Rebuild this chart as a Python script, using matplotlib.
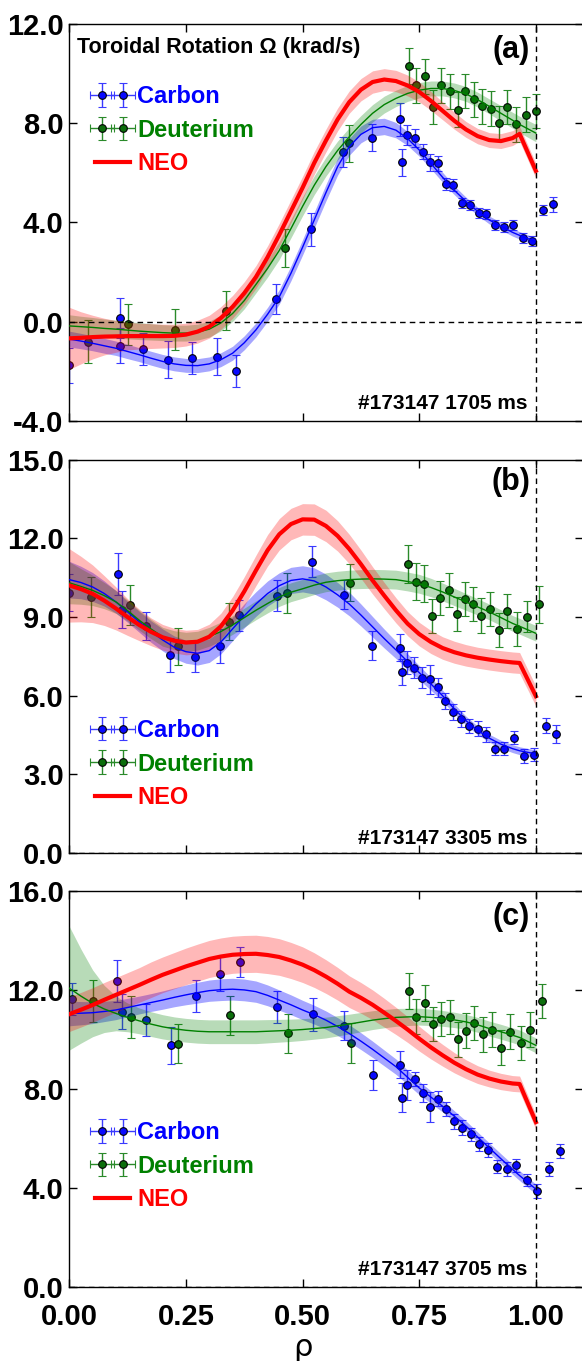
"""
Toroidal rotation profiles: carbon / deuterium measurements vs NEO
"""

import numpy as np
import matplotlib
matplotlib.use("Agg")
import matplotlib.pyplot as plt
from matplotlib.legend_handler import HandlerLine2D


# ─────────────────────────────────────────────
#  Data
# ─────────────────────────────────────────────

rho_fit = [0.000, 0.025, 0.050, 0.075, 0.100, 0.125, 0.150, 0.175, 0.200, 0.225,
           0.250, 0.275, 0.300, 0.325, 0.350, 0.375, 0.400, 0.425, 0.450, 0.475,
           0.500, 0.525, 0.550, 0.575, 0.600, 0.625, 0.650, 0.675, 0.700, 0.725,
           0.750, 0.775, 0.800, 0.825, 0.850, 0.875, 0.900, 0.925, 0.950, 0.965,
           1.000]

# ── panel (a) 1705 ms ──
a_c_rho = [0.000, 0.108, 0.108, 0.159, 0.211, 0.264, 0.317, 0.358, 0.442, 0.519,
           0.587, 0.649, 0.708, 0.712, 0.724, 0.741, 0.757, 0.774, 0.791, 0.808,
           0.823, 0.841, 0.859, 0.877, 0.894, 0.913, 0.931, 0.951, 0.972, 0.992,
           1.016, 1.037]
a_c_val = [-1.76, 0.16, -0.97, -1.09, -1.53, -1.45, -1.41, -2.00, 0.92, 3.72,
           6.85, 7.41, 8.15, 6.42, 7.54, 7.41, 6.85, 6.42, 6.39, 5.55,
           5.50, 4.80, 4.71, 4.37, 4.33, 3.89, 3.80, 3.89, 3.37, 3.24,
           4.50, 4.73]
a_c_err = [0.70, 0.80, 0.70, 0.65, 0.75, 0.65, 0.75, 0.65, 0.60, 0.67,
           0.60, 0.55, 0.68, 0.55, 0.40, 0.35, 0.30, 0.35, 0.30, 0.25,
           0.25, 0.20, 0.20, 0.20, 0.20, 0.20, 0.20, 0.20, 0.20, 0.20,
           0.20, 0.30]
a_d_rho = [0.040, 0.126, 0.226, 0.336, 0.462, 0.600, 0.728, 0.744, 0.762, 0.780,
           0.797, 0.815, 0.832, 0.849, 0.867, 0.885, 0.903, 0.921, 0.939, 0.958,
           0.979, 1.001]
a_d_val = [-0.80, -0.11, -0.32, 0.45, 2.97, 7.19, 10.31, 9.53, 9.89, 8.65,
           9.53, 9.28, 8.55, 9.30, 8.96, 8.68, 8.58, 8.00, 8.65, 7.95,
           8.35, 8.49]
a_d_err = [0.88, 0.84, 0.82, 0.80, 0.75, 0.74, 0.72, 0.70, 0.70, 0.70,
           0.70, 0.70, 0.70, 0.70, 0.70, 0.70, 0.70, 0.70, 0.70, 0.70,
           0.70, 0.70]
a_c_fit = [-0.70, -0.78, -0.87, -0.97, -1.07, -1.20, -1.33, -1.47, -1.60, -1.70,
           -1.76, -1.77, -1.70, -1.53, -1.27, -0.85, -0.33, 0.30, 1.00, 1.95,
           3.00, 4.10, 5.20, 6.25, 7.05, 7.55, 7.82, 7.87, 7.72, 7.38,
           6.92, 6.38, 5.82, 5.30, 4.85, 4.45, 4.10, 3.85, 3.60, 3.48,
           3.22]
a_c_band = [0.32, 0.31, 0.30, 0.30, 0.29, 0.29, 0.28, 0.28, 0.28, 0.28,
            0.28, 0.28, 0.28, 0.28, 0.28, 0.28, 0.28, 0.28, 0.29, 0.30,
            0.31, 0.32, 0.33, 0.34, 0.34, 0.34, 0.34, 0.33, 0.31, 0.28,
            0.25, 0.22, 0.20, 0.18, 0.17, 0.16, 0.16, 0.15, 0.15, 0.15,
            0.15]
a_d_fit = [-0.17, -0.20, -0.23, -0.27, -0.30, -0.34, -0.38, -0.41, -0.44, -0.46,
           -0.46, -0.42, -0.30, -0.05, 0.33, 0.85, 1.50, 2.15, 2.87, 3.75,
           4.65, 5.50, 6.25, 6.90, 7.45, 7.95, 8.40, 8.75, 9.00, 9.20,
           9.33, 9.40, 9.40, 9.32, 9.18, 8.95, 8.68, 8.40, 8.12, 7.95,
           7.60]
a_d_band = [0.45, 0.42, 0.40, 0.38, 0.36, 0.35, 0.34, 0.33, 0.32, 0.32,
            0.32, 0.32, 0.32, 0.32, 0.32, 0.33, 0.34, 0.35, 0.36, 0.37,
            0.38, 0.38, 0.38, 0.38, 0.37, 0.36, 0.35, 0.34, 0.33, 0.32,
            0.31, 0.30, 0.30, 0.30, 0.30, 0.30, 0.30, 0.31, 0.32, 0.33,
            0.35]
a_neo = [-0.67, -0.65, -0.62, -0.60, -0.59, -0.58, -0.58, -0.58, -0.58, -0.57,
         -0.52, -0.40, -0.20, 0.15, 0.60, 1.15, 1.80, 2.60, 3.50, 4.45,
         5.40, 6.40, 7.30, 8.15, 8.85, 9.35, 9.66, 9.76, 9.70, 9.52,
         9.26, 8.90, 8.50, 8.10, 7.75, 7.48, 7.32, 7.28, 7.40, 7.57,
         6.08]
a_neo_band = [1.25, 1.05, 0.88, 0.74, 0.64, 0.56, 0.52, 0.50, 0.48, 0.47,
              0.46, 0.46, 0.46, 0.46, 0.46, 0.46, 0.46, 0.46, 0.46, 0.46,
              0.46, 0.46, 0.46, 0.46, 0.45, 0.45, 0.45, 0.44, 0.43, 0.42,
              0.40, 0.38, 0.36, 0.34, 0.32, 0.31, 0.30, 0.30, 0.30, 0.30,
              0.30]

# ── panel (b) 3305 ms ──
b_c_rho = [0.000, 0.105, 0.113, 0.164, 0.216, 0.269, 0.322, 0.363, 0.446, 0.521,
           0.589, 0.649, 0.708, 0.712, 0.724, 0.739, 0.755, 0.772, 0.790, 0.805,
           0.823, 0.840, 0.857, 0.875, 0.893, 0.912, 0.931, 0.952, 0.974, 0.996,
           1.021, 1.044]
b_c_val = [9.93, 10.64, 9.29, 8.66, 7.54, 7.49, 7.88, 9.07, 9.82, 11.12,
           9.85, 7.91, 7.84, 6.92, 7.26, 7.07, 6.69, 6.63, 6.32, 5.79,
           5.39, 5.12, 4.84, 4.74, 4.52, 3.98, 3.98, 4.40, 3.70, 3.75,
           4.86, 4.55]
b_c_err = [0.70, 0.80, 0.70, 0.55, 0.65, 0.60, 0.65, 0.60, 0.60, 0.60,
           0.55, 0.55, 0.50, 0.50, 0.45, 0.40, 0.40, 0.55, 0.35, 0.30,
           0.30, 0.30, 0.28, 0.28, 0.28, 0.25, 0.25, 0.25, 0.25, 0.25,
           0.28, 0.35]
b_d_rho = [0.047, 0.130, 0.232, 0.342, 0.466, 0.601, 0.726, 0.743, 0.760, 0.778,
           0.795, 0.813, 0.831, 0.847, 0.865, 0.883, 0.901, 0.921, 0.939, 0.960,
           0.980, 1.006]
b_d_val = [9.77, 9.46, 7.88, 8.82, 9.92, 10.32, 11.03, 10.35, 10.27, 9.05,
           9.72, 10.02, 9.12, 9.69, 9.51, 9.06, 9.30, 8.50, 9.23, 8.53,
           9.02, 9.49]
b_d_err = [0.75, 0.75, 0.70, 0.70, 0.75, 0.72, 0.72, 0.70, 0.70, 0.65,
           0.65, 0.65, 0.65, 0.65, 0.65, 0.65, 0.65, 0.65, 0.65, 0.65,
           0.60, 0.70]
b_c_fit = [10.43, 10.32, 10.15, 9.90, 9.58, 9.20, 8.82, 8.45, 8.13, 7.85,
           7.68, 7.62, 7.72, 8.05, 8.55, 9.05, 9.50, 9.90, 10.20, 10.40,
           10.46, 10.38, 10.15, 9.85, 9.50, 9.08, 8.63, 8.18, 7.75, 7.30,
           6.88, 6.45, 6.00, 5.50, 5.05, 4.68, 4.38, 4.15, 3.98, 3.90,
           3.78]
b_c_band = [0.70, 0.62, 0.55, 0.48, 0.43, 0.40, 0.40, 0.41, 0.42, 0.43,
            0.44, 0.45, 0.45, 0.45, 0.45, 0.46, 0.47, 0.48, 0.49, 0.50,
            0.50, 0.50, 0.49, 0.47, 0.45, 0.42, 0.39, 0.36, 0.33, 0.30,
            0.27, 0.24, 0.21, 0.19, 0.17, 0.16, 0.15, 0.15, 0.15, 0.15,
            0.15]
b_d_fit = [10.31, 10.17, 10.02, 9.82, 9.58, 9.25, 8.88, 8.55, 8.25, 8.12,
           8.06, 8.10, 8.25, 8.45, 8.70, 8.98, 9.26, 9.52, 9.77, 9.95,
           10.08, 10.22, 10.33, 10.39, 10.43, 10.45, 10.46, 10.45, 10.43, 10.36,
           10.27, 10.13, 9.96, 9.77, 9.58, 9.39, 9.20, 8.98, 8.76, 8.65,
           8.38]
b_d_band = [0.80, 0.68, 0.58, 0.50, 0.44, 0.40, 0.38, 0.37, 0.36, 0.36,
            0.36, 0.36, 0.36, 0.36, 0.36, 0.36, 0.36, 0.36, 0.36, 0.36,
            0.36, 0.36, 0.36, 0.36, 0.36, 0.36, 0.36, 0.36, 0.36, 0.36,
            0.36, 0.35, 0.34, 0.33, 0.32, 0.31, 0.30, 0.30, 0.30, 0.30,
            0.30]
b_neo = [10.21, 10.07, 9.89, 9.63, 9.33, 9.00, 8.70, 8.44, 8.23, 8.10,
         8.03, 8.06, 8.25, 8.65, 9.25, 9.98, 10.78, 11.55, 12.16, 12.55,
         12.73, 12.72, 12.48, 12.10, 11.60, 11.02, 10.40, 9.82, 9.26, 8.75,
         8.35, 8.05, 7.82, 7.66, 7.54, 7.45, 7.38, 7.32, 7.27, 7.25,
         5.98]
b_neo_band = [1.40, 1.25, 1.10, 0.95, 0.82, 0.70, 0.60, 0.53, 0.49, 0.47,
              0.47, 0.47, 0.48, 0.50, 0.53, 0.56, 0.58, 0.60, 0.60, 0.60,
              0.60, 0.60, 0.60, 0.58, 0.56, 0.54, 0.52, 0.50, 0.48, 0.46,
              0.45, 0.44, 0.43, 0.42, 0.41, 0.40, 0.40, 0.40, 0.40, 0.40,
              0.38]

# ── panel (c) 3705 ms ──
c_c_rho = [0.005, 0.103, 0.113, 0.164, 0.217, 0.271, 0.322, 0.365, 0.446, 0.522,
           0.589, 0.650, 0.708, 0.712, 0.724, 0.741, 0.758, 0.774, 0.791, 0.808,
           0.824, 0.842, 0.861, 0.879, 0.898, 0.917, 0.938, 0.958, 0.980, 1.002,
           1.029, 1.052]
c_c_val = [11.62, 12.37, 11.12, 10.78, 9.76, 11.76, 12.64, 13.13, 11.31, 11.01,
           10.56, 8.56, 8.98, 7.65, 8.15, 8.40, 7.84, 7.28, 7.60, 7.19,
           6.70, 6.43, 6.16, 5.76, 5.53, 4.86, 4.78, 4.91, 4.32, 3.88,
           4.78, 5.49]
c_c_err = [0.65, 0.85, 0.70, 0.65, 0.75, 0.65, 0.70, 0.62, 0.65, 0.65,
           0.60, 0.62, 0.55, 0.60, 0.60, 0.30, 0.35, 0.60, 0.30, 0.30,
           0.30, 0.30, 0.28, 0.28, 0.28, 0.25, 0.28, 0.25, 0.25, 0.28,
           0.28, 0.30]
c_d_rho = [0.051, 0.133, 0.234, 0.344, 0.469, 0.603, 0.728, 0.744, 0.762, 0.780,
           0.797, 0.815, 0.833, 0.850, 0.867, 0.886, 0.905, 0.925, 0.944, 0.967,
           0.988, 1.013]
c_d_val = [11.55, 10.89, 9.83, 10.97, 10.24, 9.86, 11.96, 10.92, 11.48, 10.62,
           10.83, 10.90, 10.01, 10.35, 10.67, 10.21, 10.40, 9.67, 10.31, 9.86,
           10.39, 11.55]
c_d_err = [0.85, 0.85, 0.80, 0.80, 0.80, 0.80, 0.72, 0.72, 0.72, 0.70,
           0.70, 0.70, 0.70, 0.70, 0.70, 0.70, 0.70, 0.70, 0.70, 0.70,
           0.70, 0.70]
c_c_fit = [11.05, 11.06, 11.08, 11.13, 11.19, 11.29, 11.39, 11.49, 11.59, 11.70,
           11.80, 11.89, 11.97, 12.01, 12.03, 12.00, 11.93, 11.78, 11.59, 11.40,
           11.19, 11.00, 10.78, 10.52, 10.24, 9.93, 9.60, 9.25, 8.90, 8.47,
           8.04, 7.67, 7.30, 6.90, 6.50, 6.06, 5.62, 5.18, 4.75, 4.50,
           3.95]
c_c_band = [0.50, 0.47, 0.44, 0.41, 0.39, 0.37, 0.36, 0.36, 0.37, 0.38,
            0.40, 0.42, 0.43, 0.44, 0.44, 0.44, 0.43, 0.42, 0.41, 0.40,
            0.39, 0.38, 0.37, 0.36, 0.35, 0.34, 0.33, 0.32, 0.31, 0.29,
            0.27, 0.25, 0.23, 0.22, 0.21, 0.20, 0.20, 0.20, 0.20, 0.20,
            0.20]
c_d_fit = [12.07, 11.75, 11.46, 11.23, 11.05, 10.89, 10.75, 10.62, 10.51, 10.43,
           10.37, 10.33, 10.31, 10.31, 10.31, 10.31, 10.31, 10.33, 10.35, 10.37,
           10.40, 10.44, 10.48, 10.55, 10.62, 10.70, 10.78, 10.84, 10.89, 10.91,
           10.92, 10.89, 10.85, 10.79, 10.71, 10.59, 10.44, 10.31, 10.17, 10.08,
           9.76]
c_d_band = [2.50, 1.90, 1.35, 0.95, 0.70, 0.58, 0.52, 0.50, 0.49, 0.48,
            0.48, 0.48, 0.48, 0.48, 0.48, 0.48, 0.48, 0.47, 0.46, 0.45,
            0.44, 0.43, 0.42, 0.41, 0.40, 0.39, 0.38, 0.37, 0.36, 0.35,
            0.34, 0.33, 0.32, 0.31, 0.30, 0.30, 0.30, 0.30, 0.30, 0.30,
            0.30]
c_neo = [11.02, 11.20, 11.39, 11.60, 11.80, 12.00, 12.20, 12.41, 12.61, 12.78,
         12.95, 13.10, 13.25, 13.35, 13.42, 13.45, 13.46, 13.41, 13.33, 13.19,
         13.02, 12.80, 12.54, 12.25, 11.93, 11.68, 11.40, 11.08, 10.75, 10.40,
         10.03, 9.68, 9.36, 9.06, 8.80, 8.58, 8.42, 8.30, 8.22, 8.20,
         6.66]
c_neo_band = [0.70, 0.70, 0.70, 0.70, 0.70, 0.70, 0.70, 0.72, 0.72, 0.73,
              0.74, 0.75, 0.75, 0.75, 0.75, 0.75, 0.75, 0.75, 0.74, 0.73,
              0.72, 0.70, 0.68, 0.66, 0.64, 0.62, 0.60, 0.58, 0.55, 0.52,
              0.50, 0.47, 0.44, 0.41, 0.38, 0.36, 0.34, 0.33, 0.32, 0.32,
              0.30]

x_ticks = [0.0, 0.25, 0.50, 0.75, 1.00]
x_ticklabels = ["0.00", "0.25", "0.50", "0.75", "1.00"]


# ─────────────────────────────────────────────
#  Style
# ─────────────────────────────────────────────

FONT = ["Liberation Sans Narrow", "Liberation Sans", "DejaVu Sans"]
plt.rcParams["font.family"] = FONT
plt.rcParams["font.weight"] = "bold"

BLUE, GREEN, RED = "#0000ff", "#008000", "#ff0000"
BLUE_PT, GREEN_PT = "#0a0aff", "#0b6e0b"


def draw_panel(ax, d, legend_y):
    x = np.array(rho_fit)

    # measurements first: the bands sit on top of them (translucent)
    eb_c = ax.errorbar(d["c_rho"], d["c_val"], yerr=d["c_err"], xerr=0,
                       fmt="o", ms=5.5, mfc=BLUE_PT, mec="black", mew=0.8,
                       ecolor="#3a3aff", elinewidth=1.0, capsize=3, capthick=1.0,
                       zorder=2)
    eb_d = ax.errorbar(d["d_rho"], d["d_val"], yerr=d["d_err"], xerr=0,
                       fmt="o", ms=5.5, mfc=GREEN_PT, mec="black", mew=0.8,
                       ecolor="#2a8a2a", elinewidth=1.0, capsize=3, capthick=1.0,
                       zorder=2)

    # fits with uncertainty bands
    for fit, band, col, a in [(d["c_fit"], d["c_band"], BLUE, 0.35),
                              (d["d_fit"], d["d_band"], GREEN, 0.28),
                              (d["neo"], d["neo_band"], RED, 0.28)]:
        fit, band = np.array(fit), np.array(band)
        ax.fill_between(x, fit - band, fit + band, color=col, alpha=a,
                        lw=0, zorder=3)
    ax.plot(x, d["c_fit"], color=BLUE, lw=1.0, zorder=4)
    ax.plot(x, d["d_fit"], color=GREEN, lw=1.0, zorder=4)
    neo_line, = ax.plot(x, d["neo"], color=RED, lw=3.0, zorder=5)

    # reference lines
    ax.axvline(1.0, color="black", lw=1.0, ls=(0, (4, 3)), zorder=6)
    ax.axhline(0.0, color="black", lw=1.0, ls=(0, (4, 3)), zorder=6)

    ax.set_xlim(0, 1.1)
    ax.set_ylim(d["ylim"])
    ax.set_yticks(d["yticks"])
    ax.set_yticklabels([f"{v:.1f}" for v in d["yticks"]])
    ax.set_xticks(x_ticks)
    ax.tick_params(direction="in", top=True, right=True, length=6, width=1,
                   labelsize=21)
    ax.tick_params(axis="y", pad=4)
    ax.tick_params(axis="x", pad=11.5)
    for s in ax.spines.values():
        s.set_linewidth(1.0)

    ax.text(0.898, d["tag_y"], d["tag"], transform=ax.transAxes,
            ha="right", va="center", fontsize=22, fontweight="bold")
    ax.text(0.892, d["shot_y"], d["shot"], transform=ax.transAxes,
            ha="right", va="center", fontsize=15, fontweight="bold")

    leg = ax.legend([eb_c, eb_d, neo_line], ["Carbon", "Deuterium", "NEO"],
                    loc="upper left", bbox_to_anchor=(0.05, legend_y),
                    numpoints=2, frameon=False, borderpad=0, borderaxespad=0,
                    handlelength=1.5, handletextpad=0.3, labelspacing=0.45,
                    handler_map={neo_line: HandlerLine2D(marker_pad=0)},
                    prop={"family": FONT, "weight": "bold", "size": 17})
    for t, col in zip(leg.get_texts(), [BLUE, GREEN, RED]):
        t.set_color(col)


# ─────────────────────────────────────────────
#  Figure
# ─────────────────────────────────────────────

fig = plt.figure(figsize=(5.82, 13.61), dpi=100)
ax_a = fig.add_axes([0.119, 0.6907, 0.882, 0.2917])
ax_b = fig.add_axes([0.119, 0.3733, 0.882, 0.2888])
ax_c = fig.add_axes([0.119, 0.0544, 0.882, 0.2910])

panels = [
    (ax_a, dict(c_rho=a_c_rho, c_val=a_c_val, c_err=a_c_err,
                d_rho=a_d_rho, d_val=a_d_val, d_err=a_d_err,
                c_fit=a_c_fit, c_band=a_c_band, d_fit=a_d_fit, d_band=a_d_band,
                neo=a_neo, neo_band=a_neo_band,
                ylim=(-4, 12), yticks=[-4.0, 0.0, 4.0, 8.0, 12.0],
                tag="(a)", tag_y=0.935, shot="#173147 1705 ms", shot_y=0.045),
     0.846),
    (ax_b, dict(c_rho=b_c_rho, c_val=b_c_val, c_err=b_c_err,
                d_rho=b_d_rho, d_val=b_d_val, d_err=b_d_err,
                c_fit=b_c_fit, c_band=b_c_band, d_fit=b_d_fit, d_band=b_d_band,
                neo=b_neo, neo_band=b_neo_band,
                ylim=(0, 15), yticks=[0.0, 3.0, 6.0, 9.0, 12.0, 15.0],
                tag="(b)", tag_y=0.944, shot="#173147 3305 ms", shot_y=0.038),
     0.341),
    (ax_c, dict(c_rho=c_c_rho, c_val=c_c_val, c_err=c_c_err,
                d_rho=c_d_rho, d_val=c_d_val, d_err=c_d_err,
                c_fit=c_c_fit, c_band=c_c_band, d_fit=c_d_fit, d_band=c_d_band,
                neo=c_neo, neo_band=c_neo_band,
                ylim=(0, 16), yticks=[0.0, 4.0, 8.0, 12.0, 16.0],
                tag="(c)", tag_y=0.934, shot="#173147 3705 ms", shot_y=0.043),
     0.419),
]

for ax, d, ly in panels:
    draw_panel(ax, d, ly)

for ax in (ax_a, ax_b):
    ax.set_xticklabels([])
ax_c.set_xticklabels(x_ticklabels)

ax_a.text(0.016, 0.94, "Toroidal Rotation \u03a9 (krad/s)", transform=ax_a.transAxes,
          ha="left", va="center", fontsize=15.5, fontweight="bold")

fig.text(0.52, 0.0096, "\u03c1", ha="center", va="center", fontsize=22,
         fontweight="normal", family=["DejaVu Sans"])

fig.savefig("out.png", dpi=100)
